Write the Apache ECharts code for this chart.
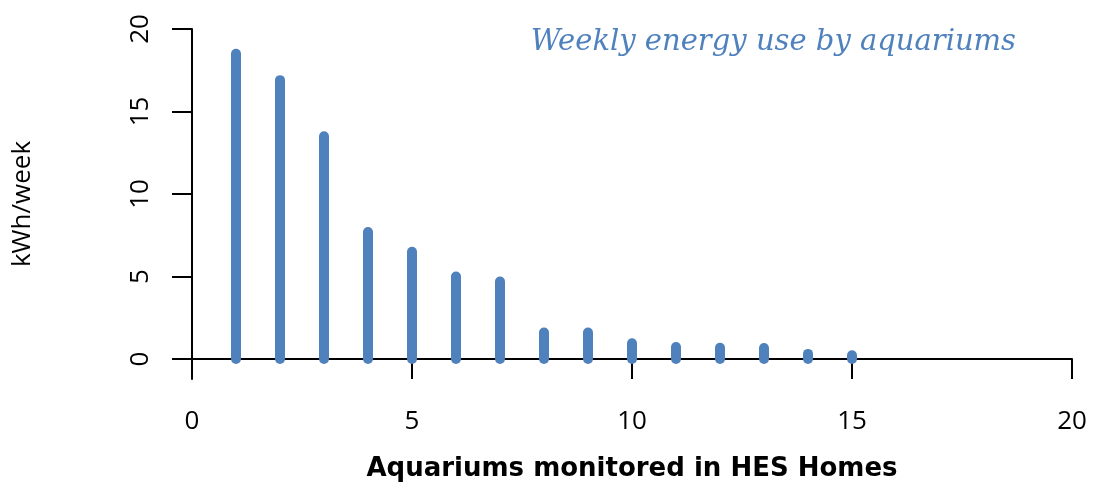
<!DOCTYPE html>
<html>
<head>
<meta charset="utf-8">
<script src="https://cdn.jsdelivr.net/npm/echarts@6/dist/echarts.min.js"></script>
<style>html,body{margin:0;padding:0;background:#fff;}#c{width:1093px;height:484px;}</style>
</head>
<body>
<div id="c"></div>
<script>
const aquariums = [1, 2, 3, 4, 5, 6, 7, 8, 9, 10, 11, 12, 13, 14, 15];
const kwhPerWeek = [18.5, 16.9, 13.5, 7.7, 6.5, 5.0, 4.7, 1.6, 1.6, 0.95, 0.72, 0.68, 0.66, 0.31, 0.23];
const yTicks = [0, 5, 10, 15, 20];
const titleText = 'Weekly energy use by aquariums';
const xName = 'Aquariums monitored in HES Homes';
const yName = 'kWh/week';

const BLUE = '#4F81BD';
const chart = echarts.init(document.getElementById('c'), null, {renderer: 'canvas'});
chart.setOption({
  animation: false,
  backgroundColor: '#fff',
  title: {
    text: titleText,
    right: 72, top: 23,
    textStyle: {fontFamily: 'DejaVu Serif', fontStyle: 'italic', fontWeight: 'normal', fontSize: 29, color: BLUE}
  },
  grid: {left: 192, right: 21, top: 29, bottom: 105, containLabel: false, outerBoundsMode: 'none'},
  xAxis: {
    type: 'value', min: 0, max: 20, interval: 5,
    name: xName, nameLocation: 'middle', nameGap: 77,
    nameTextStyle: {fontFamily: 'DejaVu Sans', fontWeight: 'bold', fontSize: 26, color: '#000'},
    axisLine: {show: true, onZero: true, lineStyle: {color: '#000', width: 2}},
    axisTick: {show: true, inside: false, length: 20, lineStyle: {color: '#000', width: 2}},
    axisLabel: {margin: 30, fontFamily: 'Open Sans', fontSize: 26, color: '#000'},
    splitLine: {show: false}
  },
  yAxis: {
    type: 'value', min: -20 / 16.5, max: 20,
    name: yName, nameLocation: 'middle', nameGap: 156, nameRotate: 90,
    nameTextStyle: {fontFamily: 'Open Sans', fontSize: 26, color: '#000'},
    axisLine: {show: true, onZero: false, lineStyle: {color: '#000', width: 2}},
    axisTick: {show: true, inside: false, length: 20, customValues: yTicks, lineStyle: {color: '#000', width: 2}},
    axisLabel: {customValues: yTicks, rotate: 90, margin: 38, fontFamily: 'Open Sans', fontSize: 26, color: '#000'},
    splitLine: {show: false}
  },
  series: [{
    type: 'custom',
    clip: false,
    data: aquariums.map((a, i) => [a, kwhPerWeek[i]]),
    encode: {x: 0, y: 1},
    renderItem: function (params, api) {
      const p0 = api.coord([api.value(0), 0]);
      const p1 = api.coord([api.value(0), api.value(1)]);
      return {
        type: 'line',
        shape: {x1: p0[0], y1: p0[1], x2: p1[0], y2: p1[1]},
        style: {stroke: BLUE, lineWidth: 10, lineCap: 'round'}
      };
    }
  }]
});
</script>
</body>
</html>
